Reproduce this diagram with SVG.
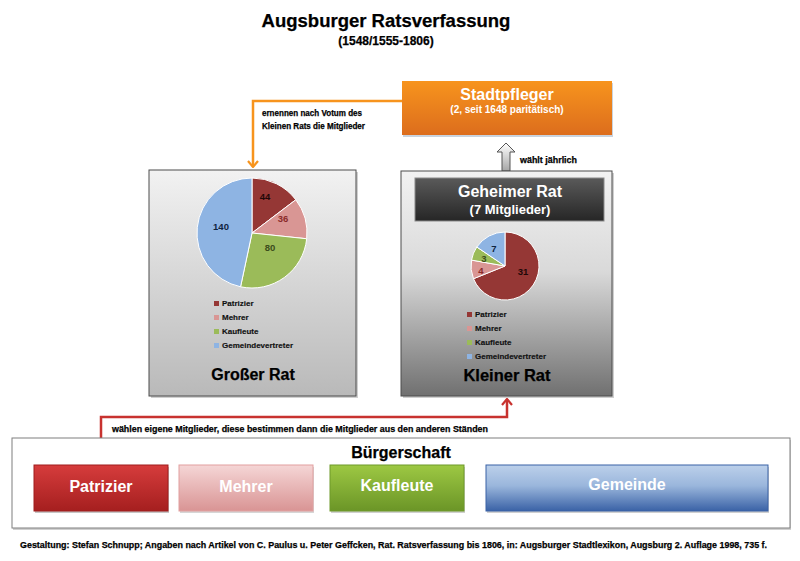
<svg xmlns="http://www.w3.org/2000/svg" width="800" height="561" viewBox="0 0 800 561">
<defs>
<style>
text{font-family:"Liberation Sans",Arial,sans-serif;font-weight:bold}
.w{fill:#fff}
.k{fill:#000;stroke:#000;stroke-width:0.25}
.small{font-size:9px}
.leg{font-size:8px;fill:#111;stroke:#111;stroke-width:0.15}
.pl{font-size:9.5px;text-anchor:middle}
.mid{text-anchor:middle}
.pie path{stroke:#fff;stroke-width:1}
</style>
<linearGradient id="gOrange" x1="0" y1="0" x2="0" y2="1"><stop offset="0" stop-color="#f7941d"/><stop offset="1" stop-color="#dc6d1d"/></linearGradient>
<linearGradient id="gGross" x1="0" y1="0" x2="0" y2="1"><stop offset="0" stop-color="#f2f2f2"/><stop offset="1" stop-color="#b9b9b9"/></linearGradient>
<linearGradient id="gKlein" x1="0" y1="0" x2="0" y2="1"><stop offset="0" stop-color="#f2f2f2"/><stop offset="0.45" stop-color="#d9d9d9"/><stop offset="1" stop-color="#707070"/></linearGradient>
<linearGradient id="gGeheim" x1="0" y1="0" x2="0" y2="1"><stop offset="0" stop-color="#5a5a5a"/><stop offset="1" stop-color="#262626"/></linearGradient>
<linearGradient id="gArrow" x1="0" y1="0" x2="0" y2="1"><stop offset="0" stop-color="#ffffff"/><stop offset="1" stop-color="#a6a6a6"/></linearGradient>
<linearGradient id="gRed" x1="0" y1="0" x2="0" y2="1"><stop offset="0" stop-color="#d63c3c"/><stop offset="1" stop-color="#a51f1f"/></linearGradient>
<linearGradient id="gPink" x1="0" y1="0" x2="0" y2="1"><stop offset="0" stop-color="#f5d6d6"/><stop offset="1" stop-color="#d99494"/></linearGradient>
<linearGradient id="gGreen" x1="0" y1="0" x2="0" y2="1"><stop offset="0" stop-color="#9dc843"/><stop offset="1" stop-color="#6b9527"/></linearGradient>
<linearGradient id="gBlue" x1="0" y1="0" x2="0" y2="1"><stop offset="0" stop-color="#bcd0ea"/><stop offset="0.45" stop-color="#9ab6dc"/><stop offset="1" stop-color="#3a62a6"/></linearGradient>
<marker id="mOrange" viewBox="0 0 12 12" refX="6" refY="11" markerWidth="12" markerHeight="12" markerUnits="userSpaceOnUse" orient="0">
<path d="M1,5 L6,11 L11,5" fill="none" stroke="#f7941d" stroke-width="2.2"/>
</marker>
<marker id="mRed" viewBox="0 0 12 12" refX="6" refY="1" markerWidth="12" markerHeight="12" markerUnits="userSpaceOnUse" orient="0">
<path d="M1,7 L6,1 L11,7" fill="none" stroke="#c8322f" stroke-width="2.2"/>
</marker>
</defs>
<rect width="800" height="561" fill="#fff"/>

<g id="title">
<text x="386" y="27" class="mid k" font-size="18.5">Augsburger Ratsverfassung</text>
<text x="386" y="45" class="mid k" font-size="12">(1548/1555-1806)</text>
</g>

<g id="connectors">
<path d="M402,101 H253 V167" fill="none" stroke="#f7941d" stroke-width="2.5" marker-end="url(#mOrange)"/>
<text x="262" y="116" class="small k" textLength="100" lengthAdjust="spacingAndGlyphs">ernennen nach Votum des</text>
<text x="262" y="129" class="small k" textLength="103" lengthAdjust="spacingAndGlyphs">Kleinen Rats die Mitglieder</text>
<path d="M101,466 V417 H507 V399" fill="none" stroke="#c8322f" stroke-width="2.5" marker-end="url(#mRed)"/>
<text x="112" y="432" class="small k" textLength="376" lengthAdjust="spacingAndGlyphs">wählen eigene Mitglieder, diese bestimmen dann die Mitglieder aus den anderen Ständen</text>
<path d="M502,171 V152 H497 L506,143 L515,152 H510 V171 Z" fill="url(#gArrow)" stroke="#555" stroke-width="1"/>
<text x="520" y="163" class="small k" textLength="57" lengthAdjust="spacingAndGlyphs">wählt jährlich</text>
</g>

<g id="stadtpfleger">
<rect x="403" y="83" width="210" height="54" fill="#c9d3de"/>
<rect x="402" y="81" width="210" height="54" fill="url(#gOrange)"/>
<text x="507" y="100" class="mid w" font-size="16">Stadtpfleger</text>
<text x="507" y="113" class="mid w" font-size="10">(2, seit 1648 paritätisch)</text>
</g>

<g id="grosser-rat">
<rect x="151" y="172" width="207" height="226" fill="#cfcfcf"/>
<rect x="149" y="170" width="207" height="226" fill="url(#gGross)" stroke="#4d4d4d" stroke-width="1"/>
<g class="pie">
<path d="M252,233 L252,178 A55,55 0 0 1 295.81,199.75 Z" fill="#953735"/>
<path d="M252,233 L295.81,199.75 A55,55 0 0 1 306.70,238.75 Z" fill="#d99694"/>
<path d="M252,233 L306.70,238.75 A55,55 0 0 1 240.56,286.80 Z" fill="#9bbb59"/>
<path d="M252,233 L240.56,286.80 A55,55 0 0 1 252,178 Z" fill="#8eb4e3"/>
</g>
<text x="265" y="200" class="pl" fill="#1f0808">44</text>
<text x="283" y="222" class="pl" fill="#8a2b2a">36</text>
<text x="270" y="251" class="pl" fill="#3c4d1c">80</text>
<text x="221" y="230" class="pl" fill="#10243f">140</text>
<rect x="214" y="301" width="5" height="5" fill="#953735"/>
<text x="222" y="306" class="leg">Patrizier</text>
<rect x="214" y="315" width="5" height="5" fill="#d99694"/>
<text x="222" y="320" class="leg">Mehrer</text>
<rect x="214" y="329" width="5" height="5" fill="#9bbb59"/>
<text x="222" y="334" class="leg">Kaufleute</text>
<rect x="214" y="343" width="5" height="5" fill="#8eb4e3"/>
<text x="222" y="348" class="leg" textLength="71" lengthAdjust="spacingAndGlyphs">Gemeindevertreter</text>
<text x="253" y="380" class="mid k" font-size="16">Großer Rat</text>
</g>

<g id="kleiner-rat">
<rect x="403" y="173" width="211" height="225" fill="#cfcfcf"/>
<rect x="401" y="171" width="211" height="225" fill="url(#gKlein)" stroke="#4d4d4d" stroke-width="1"/>
<g class="pie">
<path d="M505,266 L505,232 A34,34 0 1 1 473.48,278.74 Z" fill="#953735"/>
<path d="M505,266 L473.48,278.74 A34,34 0 0 1 471.52,260.10 Z" fill="#d99694"/>
<path d="M505,266 L471.52,260.10 A34,34 0 0 1 476.81,246.99 Z" fill="#9bbb59"/>
<path d="M505,266 L476.81,246.99 A34,34 0 0 1 505,232 Z" fill="#8eb4e3"/>
</g>
<text x="523" y="275" class="pl" fill="#1f0808">31</text>
<text x="481" y="274" class="pl" fill="#8a2b2a">4</text>
<text x="484" y="262" class="pl" fill="#3c4d1c">3</text>
<text x="494" y="252" class="pl" fill="#10243f">7</text>
<rect x="467" y="312" width="5" height="5" fill="#953735"/>
<text x="475" y="317" class="leg">Patrizier</text>
<rect x="467" y="326" width="5" height="5" fill="#d99694"/>
<text x="475" y="331" class="leg">Mehrer</text>
<rect x="467" y="340" width="5" height="5" fill="#9bbb59"/>
<text x="475" y="345" class="leg">Kaufleute</text>
<rect x="467" y="354" width="5" height="5" fill="#8eb4e3"/>
<text x="475" y="359" class="leg" textLength="71" lengthAdjust="spacingAndGlyphs">Gemeindevertreter</text>
<text x="507" y="381" class="mid k" font-size="16.5">Kleiner Rat</text>
</g>

<g id="geheimer-rat">
<rect x="415" y="178" width="189" height="43" fill="url(#gGeheim)" stroke="#8a8a8a" stroke-width="1"/>
<text x="510" y="197" class="mid w" font-size="16">Geheimer Rat</text>
<text x="510" y="214" class="mid w" font-size="13">(7 Mitglieder)</text>
</g>

<g id="buergerschaft">
<rect x="13" y="440" width="778" height="90" fill="#d0d0d0"/>
<rect x="12" y="438" width="778" height="90" fill="#fff" stroke="#7f7f7f" stroke-width="1"/>
<text x="401" y="458" class="mid k" font-size="16">Bürgerschaft</text>
</g>

<g id="patrizier">
<rect x="35" y="467" width="134" height="46" fill="#c6c6c6"/>
<rect x="34" y="465" width="134" height="46" fill="url(#gRed)" stroke="#a01c1c" stroke-width="1"/>
<text x="101" y="492" class="mid w" font-size="16">Patrizier</text>
</g>
<g id="mehrer">
<rect x="180" y="467" width="134" height="46" fill="#d6d6d6"/>
<rect x="179" y="465" width="134" height="46" fill="url(#gPink)" stroke="#e2a0a0" stroke-width="1"/>
<text x="246" y="492" class="mid w" font-size="16">Mehrer</text>
</g>
<g id="kaufleute">
<rect x="331" y="467" width="134" height="46" fill="#d0d0d0"/>
<rect x="330" y="465" width="134" height="46" fill="url(#gGreen)" stroke="#6f9a2a" stroke-width="1"/>
<text x="397" y="491" class="mid w" font-size="16">Kaufleute</text>
</g>
<g id="gemeinde">
<rect x="487" y="467" width="282" height="46" fill="#d0d0d0"/>
<rect x="486" y="465" width="282" height="46" fill="url(#gBlue)" stroke="#3a62a6" stroke-width="1"/>
<text x="627" y="490" class="mid w" font-size="16">Gemeinde</text>
</g>

<g id="footer">
<text x="20" y="548" class="small k" textLength="747" lengthAdjust="spacingAndGlyphs">Gestaltung: Stefan Schnupp; Angaben nach Artikel von C. Paulus u. Peter Geffcken, Rat. Ratsverfassung bis 1806, in: Augsburger Stadtlexikon, Augsburg 2. Auflage 1998, 735 f.</text>
</g>
</svg>
